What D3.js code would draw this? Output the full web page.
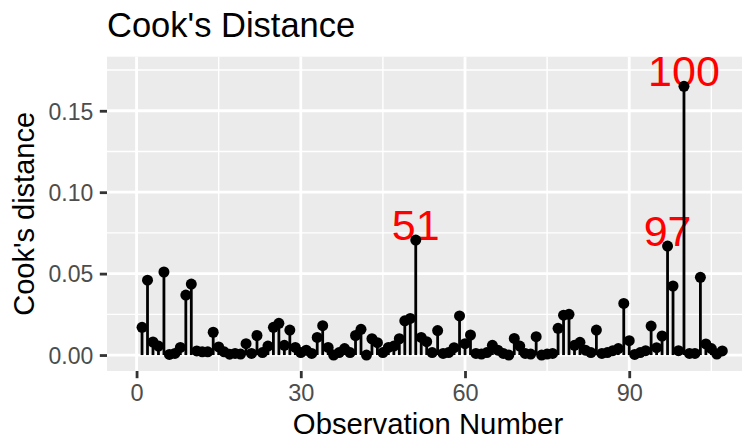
<!DOCTYPE html>
<html><head><meta charset="utf-8">
<script src="https://cdn.jsdelivr.net/npm/d3@7"></script>
<style>body{margin:0;background:#fff}svg{display:block}text{font-family:"Liberation Sans",Arial,sans-serif}</style>
</head><body><svg id="c" width="744" height="442"></svg>
<script>
const cooks = [0.017,0.046,0.008,0.0055,0.051,0.0004,0.001,0.0047,0.0368,0.0436,
0.0025,0.002,0.002,0.014,0.005,0.002,0.0005,0.001,0.0006,0.007,
0.001,0.012,0.0015,0.0055,0.017,0.0195,0.006,0.0153,0.0047,0.0015,
0.003,0.001,0.0108,0.018,0.0047,0.0,0.0015,0.004,0.0015,0.012,
0.0158,0.0,0.010,0.0076,0.0015,0.0047,0.0055,0.010,0.021,0.0225,
0.0706,0.0108,0.0082,0.0015,0.015,0.001,0.0015,0.0045,0.024,0.007,
0.0123,0.001,0.0006,0.0015,0.006,0.003,0.001,0.0,0.0102,0.0055,
0.001,0.0006,0.0113,0.0,0.0006,0.001,0.0164,0.0245,0.025,0.006,
0.0078,0.003,0.0015,0.0153,0.001,0.0015,0.0027,0.004,0.0317,0.0088,
0.0004,0.0015,0.0027,0.0178,0.0045,0.0117,0.0669,0.0424,0.0027,0.165,
0.001,0.001,0.0477,0.0068,0.004,0.0006,0.0025];
const obs = cooks.map((d,i)=>i+1);
const labelled = [51,97,100];
const xTicks = [0,30,60,90];
const xMinor = [15,45,75,105];
const yTicks = [0,0.05,0.10,0.15];
const yMinor = [0.025,0.075,0.125,0.175];

const svg = d3.select("#c");
const L=107,R=742,T=56.7,B=371;
const x = d3.scaleLinear().domain([-5.4,110.6]).range([L,R]);
const y = d3.scaleLinear().domain([-0.0098,0.1832]).range([B,T]);

svg.append("rect").attr("x",L).attr("y",T).attr("width",R-L).attr("height",B-T).attr("fill","#EBEBEB");
const g = svg.append("g");
g.selectAll(".ymin").data(yMinor).join("line").attr("x1",L).attr("x2",R).attr("y1",d=>y(d)).attr("y2",d=>y(d)).attr("stroke","#fff").attr("stroke-width",1.4);
g.selectAll(".xmin").data(xMinor).join("line").attr("y1",T).attr("y2",B).attr("x1",d=>x(d)).attr("x2",d=>x(d)).attr("stroke","#fff").attr("stroke-width",1.4);
g.selectAll(".ymaj").data(yTicks).join("line").attr("x1",L).attr("x2",R).attr("y1",d=>y(d)).attr("y2",d=>y(d)).attr("stroke","#fff").attr("stroke-width",2.8);
g.selectAll(".xmaj").data(xTicks).join("line").attr("y1",T).attr("y2",B).attr("x1",d=>x(d)).attr("x2",d=>x(d)).attr("stroke","#fff").attr("stroke-width",2.8);

// labels
svg.append("g").selectAll("text").data(labelled).join("text")
  .attr("x",d=>x(d)).attr("y",d=>y(cooks[d-1])).attr("text-anchor","middle")
  .attr("fill","#FF0000").attr("font-size",43).text(d=>d);

// stems and points
svg.append("g").selectAll("line").data(obs).join("line")
  .attr("x1",d=>x(d)).attr("x2",d=>x(d)).attr("y1",y(0)).attr("y2",d=>y(cooks[d-1]))
  .attr("stroke","#000").attr("stroke-width",2.8);
svg.append("g").selectAll("circle").data(obs).join("circle")
  .attr("cx",d=>x(d)).attr("cy",d=>y(cooks[d-1])).attr("r",5.5).attr("fill","#000");

// axes
const xa = svg.append("g").attr("transform",`translate(0,${B})`)
  .call(d3.axisBottom(x).tickValues(xTicks).tickSize(7.2).tickPadding(0).tickFormat(d3.format("d")));
xa.select(".domain").remove();
xa.selectAll(".tick line").attr("stroke","#333").attr("stroke-width",2.8);
xa.selectAll(".tick text").attr("fill","#4D4D4D").attr("font-size",23.5).attr("dy",null).attr("y",30);

const ya = svg.append("g").attr("transform",`translate(${L},0)`)
  .call(d3.axisLeft(y).tickValues(yTicks).tickSize(7.2).tickPadding(6.5).tickFormat(d3.format(".2f")));
ya.select(".domain").remove();
ya.selectAll(".tick line").attr("stroke","#333").attr("stroke-width",2.8);
ya.selectAll(".tick text").attr("fill","#4D4D4D").attr("font-size",23).attr("dy","0.36em");

svg.append("text").attr("x",L).attr("y",37).attr("font-size",34.5).attr("fill","#000").text("Cook's Distance");
svg.append("text").attr("x",428).attr("y",434).attr("text-anchor","middle").attr("font-size",29.3).attr("fill","#000").text("Observation Number");
svg.append("text").attr("transform",`translate(33.5,${(T+B)/2}) rotate(-90)`).attr("text-anchor","middle").attr("font-size",29).attr("fill","#000").text("Cook's distance");
</script></body></html>
